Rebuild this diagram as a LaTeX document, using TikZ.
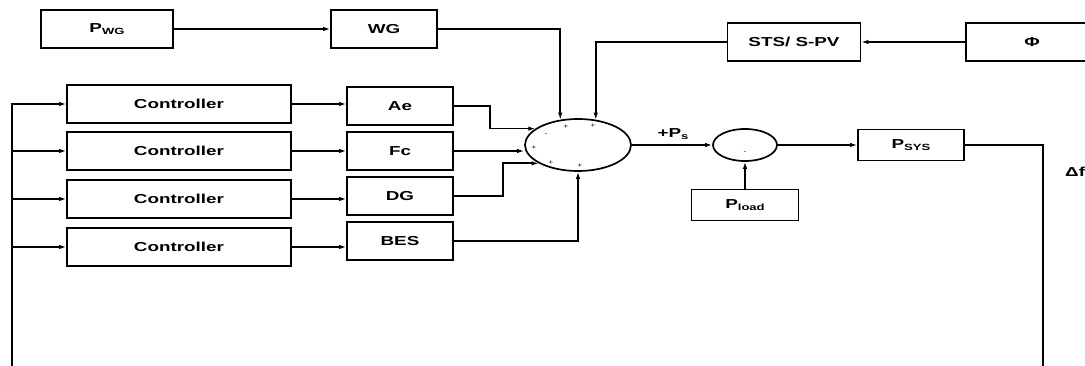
\documentclass[tikz,border=0pt]{standalone}
\usepackage{fontspec}
\setmainfont{Liberation Sans}[FakeStretch=1.45]
\usetikzlibrary{arrows.meta,shapes.geometric}

\tikzset{
  blk/.style={draw, line width=1.7pt, minimum height=38pt, inner sep=0pt,
    font=\bfseries\fontsize{13}{15}\selectfont},
  jct/.style={ellipse, draw, line width=1.7pt, inner sep=0pt},
  arr/.style={line width=1.7pt, -{Latex[length=7pt,width=4.5pt]}},
  ln/.style={line width=1.7pt},
  sgn/.style={font=\fontsize{6}{6}\selectfont, inner sep=0pt}
}
\newcommand{\lo}[1]{\raisebox{-1.5pt}{\fontsize{9}{10}\selectfont #1}}

\begin{document}
\begin{tikzpicture}[x=1pt, y=-1pt]
  \useasboundingbox (0,0) rectangle (1085,366);

  % Wind and solar inputs
  \node[blk, minimum width=132pt] (pwg) at (107,29) {P\lo{WG}};
  \node[blk, minimum width=106pt] (wg) at (384,29) {WG};
  \node[blk, minimum width=133pt] (sts) at (794,42) {STS/ S-PV};
  \node[blk, minimum width=132pt] (phi) at (1032,42) {Φ};

  % Controllers and sources
  \foreach \y [count=\i] in {104,151,199,247}
    \node[blk, minimum width=224pt] (ctrl\i) at (179,\y) {Controller};
  \node[blk, minimum width=106pt] (ae) at (400,106) {Ae};
  \node[blk, minimum width=106pt] (fc) at (400,151) {Fc};
  \node[blk, minimum width=106pt] (dg) at (400,196) {DG};
  \node[blk, minimum width=106pt] (bes) at (400,241) {BES};

  % Summing junctions
  \node[jct, minimum width=106pt, minimum height=52pt] (sum) at (578,145) {};
  \node[jct, minimum width=64pt, minimum height=32pt] (sum2) at (745,145) {};
  \node[sgn] (s1) at (546,135) {-};
  \node[sgn] (s2) at (566,127) {+};
  \node[sgn] (s3) at (593,126) {+};
  \node[sgn] (s4) at (534,148) {+};
  \node[sgn] (s5) at (551,163) {+};
  \node[sgn] (s6) at (580,166) {+};
  \node[sgn] (s7) at (745,153) {-};

  \node[blk, minimum width=107pt, minimum height=31pt] (pload) at (745,205) {P\lo{load}};
  \node[blk, minimum width=106pt, minimum height=31pt] (psys) at (911,145) {P\lo{SYS}};
  \node[font=\bfseries\fontsize{13}{15}\selectfont] (ps) at (673,134) {+P\lo{s}};
  \node[anchor=west, inner sep=0pt, font=\bfseries\fontsize{13}{15}\selectfont] (df) at (1065,172) {Δf};

  % Connectors
  \draw[arr] (pwg) -- (wg);
  \draw[arr] (wg.east) -| (sum.125);
  \draw[arr] (phi) -- (sts);
  \draw[arr] (sts.west) -| (sum.55);
  \foreach \s [count=\i] in {ae,fc,dg,bes}
    \draw[arr] (ctrl\i.east) -- (ctrl\i.east -| \s.west);
  \draw[arr] (ae.east) -- ++(36,0) |- (sum.159);
  \draw[arr] (fc.east) -- (fc.east -| sum.west);
  \draw[arr] (dg.east) -- ++(49,0) |- (sum.205);
  \draw[arr] (bes.east) -| (sum.south);
  \draw[arr] (sum.east) -- (sum2.west);
  \draw[arr] (pload.north) -- (sum2.south);
  \draw[arr] (sum2.east) -- (psys.west);

  % Feedback
  \coordinate (fbr) at (1043,366);
  \coordinate (fbl) at (12,366);
  \draw[ln] (psys.east) -| (fbr);
  \draw[arr] (fbl) |- (ctrl1.west);
  \foreach \i in {2,3,4}
    \draw[arr] (fbl |- ctrl\i.west) -- (ctrl\i.west);
\end{tikzpicture}
\end{document}
